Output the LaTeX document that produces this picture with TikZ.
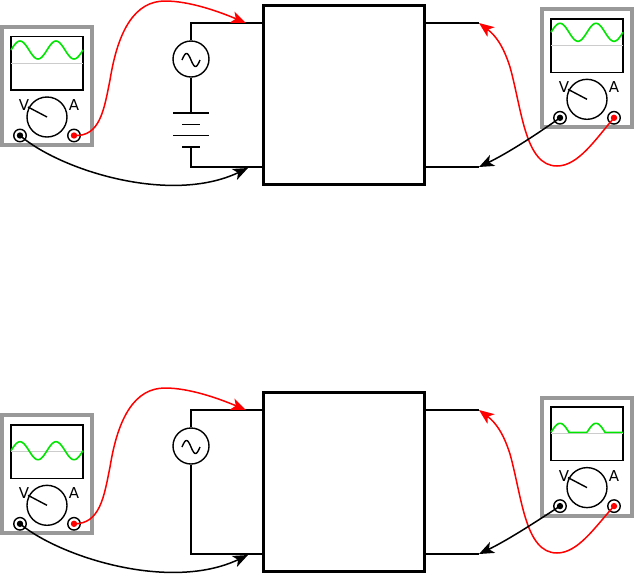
\documentclass[tikz,border=0pt]{standalone}
\usepackage{fontspec}
\usetikzlibrary{arrows.meta}
\newfontfamily\dialfont{DejaVu Sans}
\definecolor{framegray}{RGB}{153,153,153}
\definecolor{tracegreen}{RGB}{0,230,0}
\tikzset{
    wire/.style={line width=2pt},
    thinwire/.style={line width=1.4pt},
    leadred/.style={red,line width=1.5pt,-{Stealth[length=15pt,width=12pt,inset=4pt]}},
    leadblack/.style={black,line width=1.5pt,-{Stealth[length=15pt,width=12pt,inset=4pt]}},
    terminal/.style={circle,draw,line width=1.4pt,minimum size=12.5pt,inner sep=0pt},
    dial/.style={circle,draw,line width=1.4pt,minimum size=40pt,inner sep=0pt},
    source/.style={circle,draw,line width=1.4pt,minimum size=36pt,inner sep=0pt},
    bigbox/.style={draw,line width=3pt,minimum width=161pt,minimum height=179pt,inner sep=0pt},
    scale label/.style={font=\dialfont\fontsize{15}{15}\selectfont,inner sep=0pt},
    trace/.style={tracegreen,line width=1.6pt}
}
% #1 name, #2 #3 shift, #4 trace
\newcommand{\meter}[4]{
    \begin{scope}[shift={(#2,#3)}]
        \draw[framegray,line width=4pt,fill=white] (2,27) rectangle (92,145);
        \draw[thinwire] (11,36.5) rectangle (83,90);
        \draw[black!20,line width=0.8pt] (11,63) -- (83,63);
        #4
        \node[dial] (#1-dial) at (47,117) {};
        \draw[thinwire] (#1-dial.center) -- (28,107);
        \node[scale label] (#1-v) at (24,105) {V};
        \node[scale label] (#1-a) at (74,105) {A};
        \node[terminal] (#1-black) at (20,135.5) {};
        \node[terminal] (#1-red) at (74,135.5) {};
        \fill (#1-black) circle (3.2);
        \fill[red] (#1-red) circle (3.2);
    \end{scope}
}
\newcommand{\sinetrace}[1]{\draw[trace] plot[domain=11:83,samples=73,smooth] (\x,{#1-9*sin(10*(\x-11))});}
\begin{document}
\begin{tikzpicture}[x=1pt,y=1pt,yscale=-1]
    \useasboundingbox (0,0) rectangle (634,574);

    % Meters
    \meter{meterA}{0}{0}{\sinetrace{50}}
    \meter{meterB}{540}{-17.7}{\sinetrace{50}}
    \meter{meterC}{0}{388.3}{\sinetrace{62.4}}
    \meter{meterD}{540}{370.6}{
        \draw[trace] plot[domain=11:29,samples=19,smooth] (\x,{61.7-9*sin(10*(\x-11))})
            -- (47,61.7) plot[domain=47:65,samples=19,smooth] (\x,{61.7-9*sin(10*(\x-47))})
            -- (83,61.7);
    }

    % Upper circuit
    \node[bigbox] (boxA) at (343.7,95.3) {};
    \node[source] (sourceA) at (191,59) {};
    \draw[thinwire] plot[domain=182:200,samples=25,smooth] (\x,{60-6.5*sin(20*(\x-182))});
    \coordinate (topA) at (191,23);
    \coordinate (lowA) at (191,167);
    \coordinate (plateA) at (191,113);
    \coordinate (plateB) at (191,147);
    \draw[wire] (boxA.west |- topA) -- (topA) -- (sourceA);
    \draw[wire] (sourceA) -- (plateA);
    \draw[line width=2.2pt] (173,113) -- (209,113);
    \draw[line width=1.2pt] (182,124.5) -- (200,124.5);
    \draw[line width=1.2pt] (173,135.5) -- (209,135.5);
    \draw[line width=2.2pt] (182,147) -- (200,147);
    \draw[wire] (plateB) -- (lowA) -- (boxA.west |- lowA);
    \coordinate (outA) at (479,23);
    \coordinate (outB) at (479,167);
    \draw[wire] (boxA.east |- outA) -- (outA);
    \draw[wire] (boxA.east |- outB) -- (outB);

    % Lower circuit
    \node[bigbox] (boxB) at (343.7,482.3) {};
    \node[source] (sourceB) at (191,446) {};
    \draw[thinwire] plot[domain=182:200,samples=25,smooth] (\x,{447-6.5*sin(20*(\x-182))});
    \coordinate (topB) at (191,410);
    \coordinate (lowB) at (191,554);
    \draw[wire] (boxB.west |- topB) -- (topB) -- (sourceB);
    \draw[wire] (sourceB) -- (lowB) -- (boxB.west |- lowB);
    \coordinate (outC) at (479,410);
    \coordinate (outD) at (479,554);
    \draw[wire] (boxB.east |- outC) -- (outC);
    \draw[wire] (boxB.east |- outD) -- (outD);

    % Upper leads
    \coordinate (tipA) at (246,23);
    \coordinate (tipB) at (248,168);
    \draw[leadred] (meterA-red.center) .. controls (100,137) and (104,110) .. (110,80) .. controls (118,30) and (135,1) .. (165,1) .. controls (190,1) and (220,12) .. (tipA);
    \draw[leadblack] (meterA-black.center) .. controls (60,170) and (170,205) .. (tipB);
    \draw[leadred] (meterB-red.center) .. controls (595,140) and (578,166) .. (557,166) .. controls (525,166) and (522,110) .. (510,67) .. controls (503,45) and (495,35) .. (outA);
    \draw[leadblack] (meterB-black.center) .. controls (540,132) and (510,152) .. (outB);

    % Lower leads
    \coordinate (tipC) at (246,410);
    \coordinate (tipD) at (248,555);
    \draw[leadred] (meterC-red.center) .. controls (100,524) and (104,497) .. (110,467) .. controls (118,417) and (135,388) .. (165,388) .. controls (190,388) and (220,399) .. (tipC);
    \draw[leadblack] (meterC-black.center) .. controls (60,557) and (170,592) .. (tipD);
    \draw[leadred] (meterD-red.center) .. controls (595,527) and (578,553) .. (557,553) .. controls (525,553) and (522,497) .. (510,454) .. controls (503,432) and (495,422) .. (outC);
    \draw[leadblack] (meterD-black.center) .. controls (540,519) and (510,539) .. (outD);
\end{tikzpicture}
\end{document}
